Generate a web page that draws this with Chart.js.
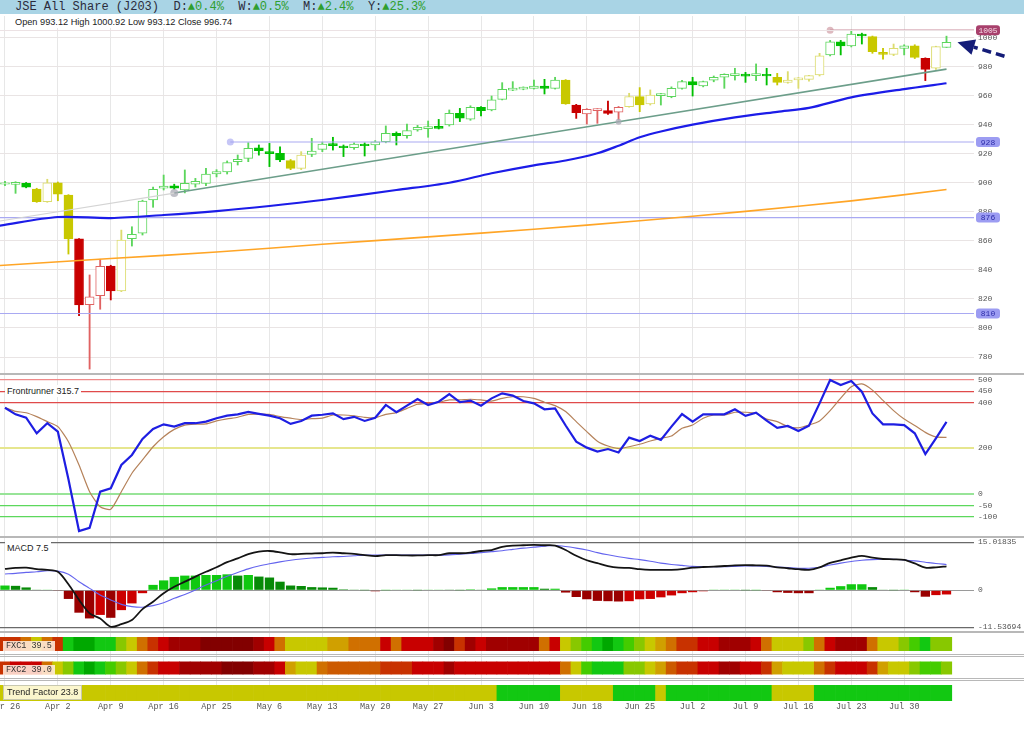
<!DOCTYPE html>
<html><head><meta charset="utf-8">
<script src="https://cdn.jsdelivr.net/npm/chart.js@4.4.1/dist/chart.umd.min.js"></script>
<style>
html,body{margin:0;padding:0;background:#fff;width:1024px;height:735px;overflow:hidden;position:relative;font-family:"Liberation Sans",Arial,sans-serif;}
canvas{position:absolute;left:0;}
.abs{position:absolute;}
#hdr{left:0;top:0;width:1024px;height:14px;background:#a9d4e5;}
#hdrTxt{left:15px;top:0;height:14px;line-height:14px;font:12px "Liberation Mono","DejaVu Sans Mono",monospace;color:#2c2c3c;white-space:pre;}
#hdrTxt .up{color:#2f9e2f;}
#ohlc{left:12px;top:16px;height:12px;line-height:12px;font-size:9.2px;color:#222;background:#fff;padding:0 3px;white-space:pre;}
.sep{left:0;width:1024px;background:#b8b8b8;}
.lbl{font-size:9px;color:#222;background:#fff;padding:0 2px;line-height:12px;height:12px;white-space:pre;}
.fx{font:8.5px "Liberation Mono","DejaVu Sans Mono",monospace;color:#333;background:rgba(255,236,222,0.88);line-height:10px;height:10px;padding:0 3px;white-space:pre;}
.tf{font-size:9px;color:#222;background:rgba(255,250,222,0.92);border:1px solid #c8c8b0;line-height:13px;height:13px;padding:0 3px;white-space:pre;}
</style>
</head><body>
<div id="hdr" class="abs"></div>
<div id="hdrTxt" class="abs">JSE All Share (J203)  D:<span class="up">▲0.4%</span>  W:<span class="up">▲0.5%</span>  M:<span class="up">▲2.4%</span>  Y:<span class="up">▲25.3%</span></div>

<canvas id="cMain" width="1024" height="357" style="top:16px"></canvas>
<canvas id="cFr" width="1024" height="162" style="top:375px"></canvas>
<canvas id="cMacd" width="1024" height="94" style="top:537px"></canvas>
<canvas id="cStrip" width="1024" height="84" style="top:632px"></canvas>

<div class="abs" style="left:0;top:30px;width:974px;height:1px;background:#ece2e4"></div>
<div class="abs sep" style="top:373px;height:2px"></div>
<div class="abs sep" style="top:536px;height:2px"></div>
<div class="abs sep" style="top:631px;height:1.5px"></div>
<div class="abs sep" style="top:654px;height:1px"></div>
<div class="abs sep" style="top:656px;height:1px"></div>
<div class="abs sep" style="top:678px;height:1px"></div>
<div class="abs sep" style="top:680px;height:1px"></div>

<div id="ohlc" class="abs">Open 993.12 High 1000.92 Low 993.12 Close 996.74</div>
<div class="abs lbl" style="left:5px;top:385px">Frontrunner 315.7</div>
<div class="abs lbl" style="left:5px;top:542px">MACD 7.5</div>
<div class="abs fx" style="left:3px;top:641px">FXC1 39.5</div>
<div class="abs fx" style="left:3px;top:665px">FXC2 39.0</div>
<div class="abs tf" style="left:3px;top:685px">Trend Factor 23.8</div>

<script>
// ---------------- DATA ----------------
const dateLabels = ["Mar 26","Apr 2","Apr 9","Apr 16","Apr 25","May 6","May 13","May 20","May 27","Jun 3","Jun 10","Jun 18","Jun 25","Jul 2","Jul 9","Jul 16","Jul 23","Jul 30"];
const dateTickIdx = [0,5,10,15,20,25,30,35,40,45,50,55,60,65,70,75,80,85];

const opens = [899.0,898.9,899.6,895.7,887.0,900.0,891.5,861.3,816.0,822.2,842.7,825.5,861.5,865.2,888.1,896.2,897.9,895.0,899.0,899.6,
906.0,907.4,914.5,916.8,924.1,921.4,920.2,915.2,909.9,919.5,923.0,926.9,925.3,924.1,926.7,926.0,928.3,934.0,932.4,936.3,
937.3,938.8,939.8,947.8,943.7,951.9,950.1,957.4,963.8,964.4,965.0,966.6,965.0,970.7,953.5,947.3,949.6,949.6,948.5,952.4,
959.3,954.2,959.9,959.3,965.0,969.6,966.6,970.7,972.6,973.8,974.8,973.8,974.6,972.6,969.1,970.8,971.2,974.2,988.0,997.1,
994.2,1002.4,1000.6,989.8,988.4,992.5,994.2,985.7,978.8,993.12];
const highs = [901.0,900.7,900.2,896.2,902.4,900.5,891.8,861.6,836.5,847.3,843.2,867.4,869.7,888.0,897.0,905.3,899.0,908.8,903.0,910.0,
909.0,915.0,919.1,927.6,926.0,927.1,924.8,916.0,921.4,930.6,928.0,931.3,926.0,927.5,927.5,929.0,939.1,935.0,940.4,939.5,
942.5,943.6,950.1,951.2,953.0,952.5,959.7,968.9,969.6,966.0,970.7,971.2,972.6,971.0,954.0,951.0,951.0,956.3,952.5,961.6,
965.5,963.9,961.5,966.0,970.5,972.6,970.0,973.5,975.0,978.8,976.0,981.8,978.8,975.3,976.5,972.5,974.0,989.1,998.0,998.0,
1005.0,1003.0,1001.0,992.5,995.5,995.0,995.0,986.0,994.0,1000.92];
const lows = [898.0,892.7,896.5,886.5,886.5,887.6,850.9,808.5,771.7,812.9,819.3,825.0,856.4,864.0,883.1,895.0,895.5,893.0,897.0,898.0,
904.0,906.0,912.2,914.5,919.0,911.1,914.5,909.0,909.0,918.0,921.4,922.5,918.0,923.0,918.4,922.5,927.5,926.0,930.6,935.5,
931.3,937.0,939.0,942.1,943.0,946.0,949.5,957.0,963.4,964.0,964.5,961.1,964.5,954.0,944.3,940.4,940.9,947.1,943.2,952.0,
948.9,953.5,953.5,958.5,964.5,959.7,966.0,969.5,965.0,970.7,969.1,970.3,967.3,967.3,968.5,965.0,970.0,973.5,987.3,988.0,
993.5,995.5,989.1,985.0,987.5,988.0,985.5,970.3,978.0,993.12];
const closes = [900.0,900.2,897.0,887.0,900.0,892.2,861.3,815.8,821.5,842.4,825.5,860.6,864.5,887.4,895.5,897.7,896.2,899.6,901.0,906.0,
907.6,913.8,916.1,923.7,922.1,920.0,915.7,909.9,919.1,921.8,926.7,925.5,924.1,926.7,925.5,928.1,934.0,932.4,935.9,938.1,
938.7,937.4,947.8,944.4,951.9,949.6,957.0,964.3,965.1,965.8,966.6,965.0,970.7,954.2,948.2,950.5,951.0,947.8,951.9,959.3,
953.5,960.4,961.3,965.0,969.6,967.3,969.6,972.6,974.6,975.2,973.4,975.2,973.5,969.1,970.7,972.2,973.7,987.3,997.1,994.2,
1002.4,1001.0,990.2,988.4,992.5,994.2,986.3,978.1,993.7,996.74];
// candle tone: g = green, y = yellow, r = red
const candleTone = ("gggyyyyrrrry" + "ggggggggggggggg" + "yy" + "gggggggggggggggggggggggg" + "y" + "rrrrr" + "yyy" + "ggggggggggg" + "yyyyy" + "gggg" + "yyy" + "g" + "y" + "r" + "y" + "g").split("");

const maBlueIdx = [-0.5,5,10,15,20,25,30,37,42,46,50,53,56,58,60,62,65,69,73,76,80,85,89];
const maBlueVal = [870.5,876.4,875.7,877.8,880.5,884.0,888.1,895.0,900.0,906.5,912.0,915.3,920.3,925.5,931.3,935.3,940.0,945.0,948.8,951.5,958.8,964.5,968.5];
const maOrangeIdx = [-0.5,10,20,30,40,50,60,70,80,89];
const maOrangeVal = [843.0,847.8,852.3,857.6,862.7,868.0,873.8,880.3,887.5,895.3];

const trendIdx = [16, 58];
const trendVal = [892.9, 942.0];

const levelVal = [1005, 928, 876, 810];
const levelStart = [78, 21.3, null, null];
const priceTicks = [1000,980,960,940,920,900,880,860,840,820,800,780];

const frBlue = [378,349,334,266,310,273,65,-162,-148,10,25,127,171,241,285,305,295,310,310,317,
332,343,349,360,351,343,332,307,320,343,347,353,328,338,320,334,390,358,387,416,
390,404,437,402,409,387,419,441,431,407,397,371,375,300,229,203,186,197,182,247,
232,255,237,295,350,317,349,349,349,371,342,356,321,290,298,276,299,397,499,477,
495,448,353,305,305,302,266,175,244,315.7];
const frSignal = [378,362,356,339,317,295,229,127,10,-56,-67,10,91,149,207,251,283,302,306,307,
320,329,336,349,350,349,339,332,326,330,332,346,346,342,336,334,349,356,375,393,
397,402,412,412,415,412,407,419,426,426,419,402,387,361,317,273,231,210,199,207,
218,232,244,254,288,302,332,346,346,358,358,353,328,317,295,290,302,320,365,420,
470,482,455,410,365,328,300,270,250,248];
const frTicks = [500,450,400,200,0,-50,-100];

const macdLine = [6.7,7.0,7.1,6.6,6.4,5.8,1.9,-3.0,-7.2,-8.8,-11.4,-10.6,-9.3,-5.9,-3.6,-0.9,1.1,2.7,4.3,5.8,
7.2,8.8,10.0,11.3,12.1,12.3,11.9,11.3,11.4,11.5,11.6,11.8,11.6,11.4,11.0,10.7,11.0,11.0,10.9,10.9,
11.0,11.0,11.6,11.6,11.8,12.3,12.6,13.6,14.0,14.1,14.2,14.1,14.0,12.6,10.8,9.4,8.5,7.6,7.1,7.0,
6.6,6.4,6.4,6.4,6.6,7.1,7.3,7.4,7.6,7.8,7.9,7.8,7.7,7.2,6.9,6.6,6.4,7.2,8.6,9.4,
10.2,10.8,10.2,9.8,9.7,9.5,8.4,7.1,7.2,7.5];
const macdSignal = [5.1,5.3,5.6,5.8,6.1,6.0,5.0,2.7,0.6,-1.5,-3.0,-4.4,-5.1,-5.3,-4.8,-3.9,-2.5,-1.3,0.1,1.7,
3.0,4.4,5.6,6.7,7.6,8.3,8.9,9.4,9.8,10.1,10.3,10.5,10.6,10.8,11.0,11.0,11.0,11.0,11.0,11.0,
11.0,11.0,11.1,11.3,11.5,11.8,12.1,12.4,12.8,13.2,13.5,13.8,14.0,13.7,13.2,12.6,11.8,11.1,10.5,10.0,
9.6,9.1,8.5,8.1,7.8,7.5,7.4,7.4,7.4,7.5,7.6,7.6,7.5,7.3,7.1,6.9,6.9,7.2,7.9,8.5,
9.0,9.4,9.6,9.7,9.7,9.5,9.2,8.8,8.4,8.1];
const macdHist = [1.5,1.4,0.9,0.2,0.2,-0.2,-2.7,-7.0,-8.8,-7.7,-8.6,-6.2,-4.1,-0.9,1.7,3.1,4.2,4.6,4.6,4.8,
4.8,5.0,4.6,4.8,4.3,4.0,2.7,1.5,1.35,1.0,0.9,0.8,0.3,0.1,0.05,-0.3,0.05,0.2,0.2,0.05,
0.2,0.2,0.1,0.05,0.3,0.2,0.6,1.0,1.0,1.0,1.0,0.5,0.5,-0.7,-2.1,-2.8,-3.3,-3.4,-3.5,-3.4,
-2.8,-2.7,-2.2,-1.6,-0.9,-0.6,-0.3,0.1,0.1,0.1,0.05,0.05,-0.2,-0.6,-0.8,-0.9,-0.9,0.1,0.8,1.3,
1.9,1.9,1.0,0.2,0.05,0.1,-0.6,-2.0,-1.5,-1.3];
const macdTicks = [15.01835, 0, -11.53694];

const fxc1 = "OOoYoOGKKGGLYoORDDDMMMMMDRoYYYYAAoooRoRRRDMODRDDDDDoRYLgGKGgLYAoOORRDDDRoYYYLoRDDDoYYLgGLL".split("");
const fxc2 = "ORRRoYLGKGgLYoORRDDDDMMMDDRAYYoPPPPPOOORRRDRRRRRRRRRRoYgGGGLLYAPOORRDDRROAYYYoORRROAYYLggL".split("");
const trendFactor = ("YYYYYYYYYY"+"YYYYYYYYYY"+"YYYYYYYYYY"+"YYYYYYYYYY"+"YYYYYYY" + "GGGGGG" + "YYYYY" + "GGGG" + "Y" + "GGGGGGGGGG" + "YYYY" + "GGGGGGGGGGGGG").split("");

// ---------------- STYLE ----------------
const MONO = "'Liberation Mono','DejaVu Sans Mono',monospace";
const X_MIN = -0.47, X_MAX = 91.6;
const toneFill = {g:'#00c000', y:'#c8c800', r:'#c80000'};
const toneHollow = {g:'#5cd65c', y:'#dcdc6e', r:'#e06262'};
const stripPal = {R:'#c80000', D:'#a00000', M:'#820000', O:'#c83200', o:'#d07000', P:'#cc5a00', A:'#d0a000',
                  Y:'#c8c800', L:'#88c800', g:'#44cc00', G:'#12c812', K:'#00a800'};

Chart.defaults.animation = false;
Chart.defaults.font.family = "'Liberation Sans',Arial,sans-serif";

function xAxis(showLabels){
  return {
    type:'linear', min:X_MIN, max:X_MAX, offset:false, bounds:'data',
    grid:{color:'#e7e7e7', lineWidth:1, drawTicks:false, offset:false},
    border:{display:false},
    ticks:{display:showLabels, autoSkip:false, maxRotation:0, padding:1, color:'#555',
           font:{family:MONO, size:8.5},
           callback:(v)=>{const k=dateTickIdx.indexOf(v); return k<0?'':dateLabels[k];}},
    afterBuildTicks:(s)=>{ s.ticks = dateTickIdx.map(v=>({value:v})); },
    afterFit:(s)=>{ s.height = showLabels?15:0; s.paddingLeft=0; s.paddingRight=0; }
  };
}
function yAxis(min,max,ticks,o){
  o = o||{};
  return {
    position:'right', min, max, bounds:'data',
    grid:{drawTicks:false, display:o.grid!==false, color:o.gridColor||'#e9e5e5', lineWidth:o.lineWidth||1},
    border:{display:false},
    ticks:{display:o.labels!==false, padding:4, color:'#555', font:{family:MONO, size:8}, autoSkip:false,
           callback:o.fmt||((v)=>String(v))},
    afterBuildTicks:(s)=>{ s.ticks = ticks.map(v=>({value:v})); },
    afterFit:(s)=>{ s.width = 50; s.paddingTop=0; s.paddingBottom=0; }
  };
}
const baseOpts = {responsive:false, animation:false, events:[], layout:{padding:0, autoPadding:false},
  plugins:{legend:{display:false}, tooltip:{enabled:false}}};

// ---------------- MAIN PRICE PANEL ----------------
const idx = opens.map((_,i)=>i);
const isHollow = idx.map(i=>closes[i] >= opens[i]);
const bodyFill = idx.map(i=> isHollow[i] ? '#ffffff' : toneFill[candleTone[i]]);
const bodyBorder = idx.map(i=> isHollow[i] ? toneHollow[candleTone[i]] : toneFill[candleTone[i]]);
const slope = (trendVal[1]-trendVal[0])/(trendIdx[1]-trendIdx[0]);
const tAt = x => trendVal[0] + slope*(x - trendIdx[0]);
const levelColor = v => v===1005 ? '#c98c9c' : '#a9a9f2';

const levelSets = levelVal.map((v,k)=>({
  type:'line', order:2,
  data:[{x: levelStart[k]==null ? X_MIN : levelStart[k], y:v},{x:X_MAX, y:v}],
  borderColor: levelColor(v), borderWidth: v===1005?1.4:1.1,
  pointRadius: levelStart[k]==null ? [0,0] : [3.5,0],
  pointBackgroundColor: v===1005 ? 'rgba(200,140,150,0.6)' : 'rgba(160,160,240,0.6)',
  pointBorderWidth:0
}));

const mainOverlay = {
  id:'mainOverlay',
  afterDraw(chart){
    const c = chart.ctx, xs = chart.scales.x, ys = chart.scales.y;
    levelVal.forEach(v=>{
      const y = ys.getPixelForValue(v);
      const x0 = 976, w = 24, h = 10;
      c.save();
      c.fillStyle = v===1005 ? '#a8406c' : '#9c9cf2';
      c.beginPath();
      if (c.roundRect) c.roundRect(x0, y-h/2, w, h, 3); else c.rect(x0,y-h/2,w,h);
      c.fill();
      c.fillStyle = v===1005 ? '#f4dbe6' : '#2e2eaa';
      c.font = "8px " + MONO; c.textAlign='center'; c.textBaseline='middle';
      c.fillText(String(v), x0+w/2, y+0.5);
      c.restore();
    });
    const last = opens.length-1;
    const tipX = xs.getPixelForValue(last)+11, tipY = ys.getPixelForValue(closes[last]);
    const tailX = tipX+47, tailY = tipY+14;
    const dx = tipX-tailX, dy = tipY-tailY, L = Math.hypot(dx,dy), ux = dx/L, uy = dy/L;
    const hl = 17, hw = 8;
    const bx = tipX-ux*hl, by = tipY-uy*hl;
    c.save();
    c.strokeStyle = '#141c78'; c.lineWidth = 3.5; c.setLineDash([9,5]);
    c.beginPath(); c.moveTo(tailX, tailY); c.lineTo(bx, by); c.stroke();
    c.setLineDash([]);
    c.fillStyle = '#141c78';
    c.beginPath(); c.moveTo(tipX, tipY); c.lineTo(bx - uy*hw, by + ux*hw); c.lineTo(bx + uy*hw, by - ux*hw); c.closePath(); c.fill();
    c.restore();
  }
};

new Chart(document.getElementById('cMain'), {
  type:'bar',
  data:{datasets:[
    {type:'line', order:0, data: maBlueIdx.map((x,k)=>({x, y:maBlueVal[k]})), borderColor:'#1c1ce8', borderWidth:2.2, pointRadius:0, tension:0.3},
    {type:'line', order:1, data: maOrangeIdx.map((x,k)=>({x, y:maOrangeVal[k]})), borderColor:'#ffa526', borderWidth:1.6, pointRadius:0, tension:0.3},
    {type:'line', order:1, data:[{x:X_MIN, y:tAt(X_MIN)},{x:trendIdx[0], y:trendVal[0]}], borderColor:'#d4d4d4', borderWidth:1.2, pointRadius:0},
    {type:'line', order:1, data:[{x:trendIdx[0], y:trendVal[0]},{x:trendIdx[1], y:trendVal[1]},{x:opens.length-1, y:tAt(opens.length-1)}],
      borderColor:'#6c9e8a', borderWidth:1.6, pointRadius:[4,3,0], pointBackgroundColor:'rgba(170,170,180,0.75)', pointBorderWidth:0},
    ...levelSets,
    {type:'bar', order:6, grouped:false, data: idx.map(i=>({x:i, y:[lows[i], highs[i]]})),
      backgroundColor: bodyBorder, borderWidth:0, barThickness:1.2},
    {type:'bar', order:5, grouped:false, data: idx.map(i=>({x:i, y:[opens[i], closes[i]]})),
      backgroundColor: bodyFill, borderColor: bodyBorder, borderWidth:1, borderSkipped:false, barThickness:9}
  ]},
  options:{...baseOpts, scales:{x:xAxis(false), y:yAxis(769.0, 1014.8, priceTicks, {gridColor:'#e9e4e4'})}},
  plugins:[mainOverlay]
});

// ---------------- FRONTRUNNER PANEL ----------------
const frGridColor = ctx => { const v = ctx.tick && ctx.tick.value;
  if (v===500) return '#ef8a8a'; if (v===450||v===400) return '#e04a4a';
  if (v===200) return '#e6e68e'; if (v===0) return '#98e498'; return '#5cd85c'; };
const frGridWidth = ctx => { const v = ctx.tick && ctx.tick.value; return (v===200||v===0) ? 2 : 1.2; };
new Chart(document.getElementById('cFr'), {
  type:'line',
  data:{datasets:[
    {order:0, data: idx.map(i=>({x:i, y:frBlue[i]})), borderColor:'#1e1ee2', borderWidth:2.2, pointRadius:0, tension:0},
    {order:1, data: idx.map(i=>({x:i, y:frSignal[i]})), borderColor:'#b5825a', borderWidth:1.2, pointRadius:0, tension:0.2}
  ]},
  options:{...baseOpts, scales:{x:xAxis(false), y:yAxis(-188.3, 521.2, frTicks, {gridColor:frGridColor, lineWidth:frGridWidth})}}
});

// ---------------- MACD PANEL ----------------
const histColor = macdHist.map((v,i)=>{
  const p = i>0 ? macdHist[i-1] : v;
  if (v >= 0) return v >= p ? '#10c810' : '#078a07';
  return v <= p ? '#9a0000' : '#cc0000';
});
new Chart(document.getElementById('cMacd'), {
  type:'bar',
  data:{datasets:[
    {type:'line', order:0, data: idx.map(i=>({x:i, y:macdLine[i]})), borderColor:'#141414', borderWidth:1.8, pointRadius:0, tension:0.3},
    {type:'line', order:1, data: idx.map(i=>({x:i, y:macdSignal[i]})), borderColor:'#6464ee', borderWidth:1.1, pointRadius:0, tension:0.3},
    {type:'bar', order:2, data: idx.map(i=>({x:i, y:macdHist[i]})), backgroundColor:histColor, borderWidth:0, barPercentage:0.88, categoryPercentage:1}
  ]},
  options:{...baseOpts, scales:{x:xAxis(false), y:yAxis(-12.73, 16.68, macdTicks, {
    gridColor: ctx => (ctx.tick && ctx.tick.value===0) ? '#9a9a9a' : '#6a6a6a',
    lineWidth: ctx => (ctx.tick && ctx.tick.value===0) ? 1 : 1.3,
    fmt: v => String(v)})}}
});

// ---------------- FXC / TREND FACTOR STRIPS ----------------
const stripSet = (codes, band) => ({
  type:'bar', grouped:false, data: idx.map(i=>({x:i, y:band})),
  backgroundColor: codes.map(c=>stripPal[c]), borderWidth:0, barPercentage:1.06, categoryPercentage:1
});
new Chart(document.getElementById('cStrip'), {
  type:'bar',
  data:{datasets:[ stripSet(fxc1,[5,19]), stripSet(fxc2,[29.5,42.5]), stripSet(trendFactor,[53,69]) ]},
  options:{...baseOpts, scales:{x:xAxis(true), y:{...yAxis(0, 69, [], {grid:false, labels:false}), reverse:true}}}
});
</script>
</body></html>
